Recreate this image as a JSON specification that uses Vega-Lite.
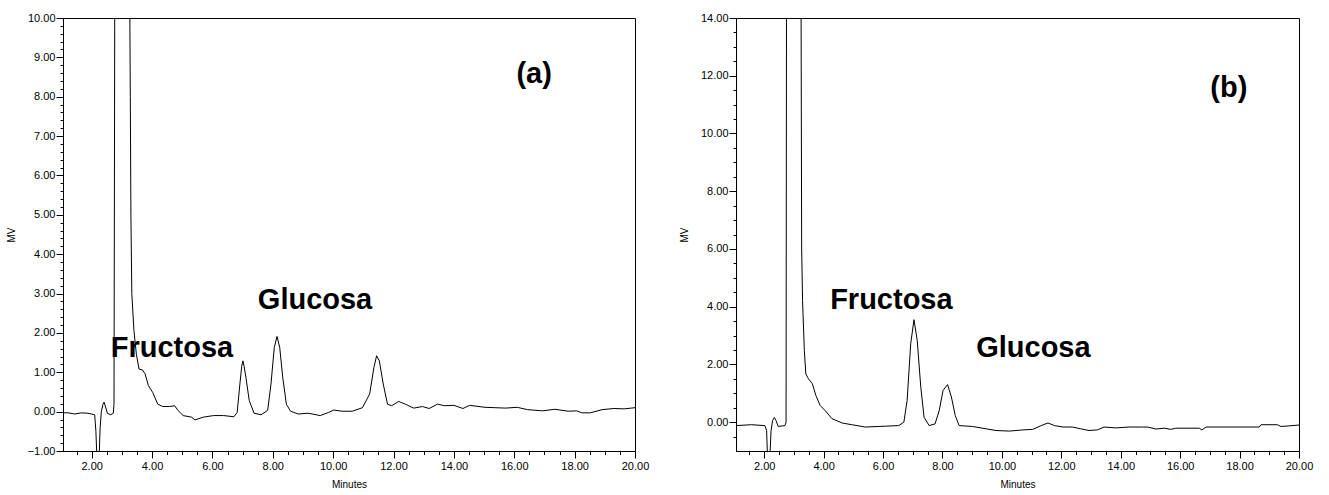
{
  "$schema": "https://vega.github.io/schema/vega-lite/v6.json",
  "background": "white",
  "padding": {"left": 5, "top": 11, "right": 0, "bottom": 0},
  "autosize": {"type": "pad"},
  "spacing": 101,
  "bounds": "flush",
  "config": {
    "view": {"stroke": "black", "strokeWidth": 1},
    "axis": {
      "grid": false,
      "labelFont": "Liberation Sans",
      "labelFontSize": 11,
      "labelColor": "black",
      "titleFont": "Liberation Sans",
      "titleFontSize": 10,
      "titleFontWeight": "normal",
      "titleColor": "black",
      "domainColor": "black",
      "tickColor": "black",
      "labelFlush": false,
      "labelOverlap": false
    }
  },
  "datasets": {
    "a": [
      {"t": 1.05, "v": -0.03}, {"t": 1.22, "v": -0.03}, {"t": 1.44, "v": -0.06}, {"t": 1.66, "v": -0.03},
      {"t": 1.85, "v": -0.04}, {"t": 2.0, "v": -0.06}, {"t": 2.1, "v": -0.08}, {"t": 2.14, "v": -0.5},
      {"t": 2.18, "v": -1.3}, {"t": 2.24, "v": -1.3}, {"t": 2.28, "v": -0.4}, {"t": 2.32, "v": 0.0},
      {"t": 2.37, "v": 0.18}, {"t": 2.41, "v": 0.24}, {"t": 2.46, "v": 0.12}, {"t": 2.52, "v": -0.04},
      {"t": 2.63, "v": -0.08}, {"t": 2.72, "v": -0.04}, {"t": 2.74, "v": 0.2}, {"t": 2.765, "v": 10.6},
      {"t": 3.26, "v": 10.6}, {"t": 3.28, "v": 8.0}, {"t": 3.3, "v": 5.0}, {"t": 3.33, "v": 3.0},
      {"t": 3.4, "v": 2.06}, {"t": 3.48, "v": 1.46}, {"t": 3.57, "v": 1.08}, {"t": 3.68, "v": 1.06},
      {"t": 3.77, "v": 0.96}, {"t": 3.88, "v": 0.66}, {"t": 4.02, "v": 0.49}, {"t": 4.19, "v": 0.19},
      {"t": 4.35, "v": 0.13}, {"t": 4.58, "v": 0.13}, {"t": 4.75, "v": 0.15}, {"t": 4.86, "v": 0.03},
      {"t": 5.03, "v": -0.1}, {"t": 5.31, "v": -0.14}, {"t": 5.42, "v": -0.21}, {"t": 5.7, "v": -0.14},
      {"t": 6.04, "v": -0.1}, {"t": 6.37, "v": -0.1}, {"t": 6.71, "v": -0.13}, {"t": 6.82, "v": -0.02},
      {"t": 6.91, "v": 0.7}, {"t": 6.97, "v": 1.15}, {"t": 7.01, "v": 1.29}, {"t": 7.05, "v": 1.15},
      {"t": 7.11, "v": 0.87}, {"t": 7.22, "v": 0.28}, {"t": 7.38, "v": -0.04}, {"t": 7.61, "v": -0.08},
      {"t": 7.83, "v": 0.03}, {"t": 7.94, "v": 0.7}, {"t": 8.05, "v": 1.63}, {"t": 8.14, "v": 1.91},
      {"t": 8.23, "v": 1.63}, {"t": 8.33, "v": 0.87}, {"t": 8.45, "v": 0.19}, {"t": 8.59, "v": 0.01},
      {"t": 8.84, "v": -0.06}, {"t": 9.17, "v": -0.04}, {"t": 9.57, "v": -0.1}, {"t": 9.85, "v": -0.02},
      {"t": 10.02, "v": 0.04}, {"t": 10.3, "v": 0.01}, {"t": 10.63, "v": 0.01}, {"t": 10.97, "v": 0.1},
      {"t": 11.21, "v": 0.45}, {"t": 11.35, "v": 1.12}, {"t": 11.44, "v": 1.42}, {"t": 11.53, "v": 1.29},
      {"t": 11.66, "v": 0.7}, {"t": 11.8, "v": 0.19}, {"t": 11.94, "v": 0.15}, {"t": 12.17, "v": 0.26},
      {"t": 12.39, "v": 0.19}, {"t": 12.67, "v": 0.09}, {"t": 12.96, "v": 0.13}, {"t": 13.18, "v": 0.08},
      {"t": 13.46, "v": 0.19}, {"t": 13.69, "v": 0.15}, {"t": 14.0, "v": 0.16}, {"t": 14.3, "v": 0.08},
      {"t": 14.52, "v": 0.16}, {"t": 15.03, "v": 0.11}, {"t": 15.71, "v": 0.09}, {"t": 16.1, "v": 0.11},
      {"t": 16.44, "v": 0.05}, {"t": 16.94, "v": 0.02}, {"t": 17.34, "v": 0.06}, {"t": 17.79, "v": 0.01},
      {"t": 18.07, "v": 0.02}, {"t": 18.24, "v": -0.03}, {"t": 18.52, "v": -0.03}, {"t": 18.91, "v": 0.05},
      {"t": 19.3, "v": 0.08}, {"t": 19.64, "v": 0.07}, {"t": 20.0, "v": 0.1}
    ],
    "b": [
      {"t": 1.05, "v": -0.12}, {"t": 1.57, "v": -0.09}, {"t": 2.02, "v": -0.12}, {"t": 2.08, "v": -0.29},
      {"t": 2.11, "v": -1.2}, {"t": 2.19, "v": -1.2}, {"t": 2.23, "v": -0.3}, {"t": 2.28, "v": 0.05},
      {"t": 2.34, "v": 0.16}, {"t": 2.4, "v": 0.05}, {"t": 2.47, "v": -0.15}, {"t": 2.7, "v": -0.12},
      {"t": 2.735, "v": 0.0}, {"t": 2.75, "v": 14.5}, {"t": 3.24, "v": 14.5}, {"t": 3.26, "v": 6.0},
      {"t": 3.29, "v": 4.21}, {"t": 3.35, "v": 2.48}, {"t": 3.4, "v": 1.67}, {"t": 3.49, "v": 1.5},
      {"t": 3.62, "v": 1.33}, {"t": 3.74, "v": 0.92}, {"t": 3.88, "v": 0.58}, {"t": 4.05, "v": 0.4},
      {"t": 4.28, "v": 0.12}, {"t": 4.62, "v": -0.03}, {"t": 4.95, "v": -0.09}, {"t": 5.4, "v": -0.17},
      {"t": 5.86, "v": -0.15}, {"t": 6.08, "v": -0.14}, {"t": 6.53, "v": -0.12}, {"t": 6.7, "v": 0.0},
      {"t": 6.81, "v": 0.75}, {"t": 6.93, "v": 2.71}, {"t": 7.04, "v": 3.55}, {"t": 7.15, "v": 2.83},
      {"t": 7.27, "v": 1.21}, {"t": 7.38, "v": 0.17}, {"t": 7.55, "v": -0.12}, {"t": 7.75, "v": -0.06},
      {"t": 7.89, "v": 0.4}, {"t": 8.02, "v": 1.1}, {"t": 8.17, "v": 1.3}, {"t": 8.3, "v": 0.87},
      {"t": 8.43, "v": 0.23}, {"t": 8.56, "v": -0.12}, {"t": 9.01, "v": -0.15}, {"t": 9.46, "v": -0.23},
      {"t": 9.8, "v": -0.29}, {"t": 10.25, "v": -0.31}, {"t": 10.7, "v": -0.27}, {"t": 11.04, "v": -0.25},
      {"t": 11.32, "v": -0.12}, {"t": 11.55, "v": -0.03}, {"t": 11.77, "v": -0.12}, {"t": 12.06, "v": -0.17},
      {"t": 12.37, "v": -0.17}, {"t": 12.65, "v": -0.23}, {"t": 12.93, "v": -0.29}, {"t": 13.21, "v": -0.27},
      {"t": 13.44, "v": -0.17}, {"t": 13.83, "v": -0.2}, {"t": 14.28, "v": -0.17}, {"t": 14.73, "v": -0.17},
      {"t": 14.9, "v": -0.17}, {"t": 15.18, "v": -0.24}, {"t": 15.46, "v": -0.21}, {"t": 15.69, "v": -0.25},
      {"t": 15.85, "v": -0.21}, {"t": 16.64, "v": -0.21}, {"t": 16.73, "v": -0.27}, {"t": 16.87, "v": -0.17},
      {"t": 17.54, "v": -0.17}, {"t": 18.66, "v": -0.17}, {"t": 18.72, "v": -0.09}, {"t": 19.28, "v": -0.09},
      {"t": 19.39, "v": -0.15}, {"t": 19.67, "v": -0.13}, {"t": 20.0, "v": -0.1}
    ],
    "la": [
      {"t": 4.66, "v": 1.4, "label": "Fructosa"},
      {"t": 9.4, "v": 2.62, "label": "Glucosa"},
      {"t": 16.66, "v": 8.34, "label": "(a)"}
    ],
    "lb": [
      {"t": 6.28, "v": 3.93, "label": "Fructosa"},
      {"t": 11.06, "v": 2.25, "label": "Glucosa"},
      {"t": 17.64, "v": 11.26, "label": "(b)"}
    ]
  },
  "hconcat": [
    {
      "width": 572,
      "height": 433,
      "resolve": {"axis": {"x": "independent", "y": "independent"}},
      "layer": [
        {
          "data": {"name": "a"},
          "mark": {"type": "line", "clip": true, "color": "black", "strokeWidth": 1},
          "encoding": {
            "x": {
              "field": "t", "type": "quantitative",
              "scale": {"domain": [1.05, 20], "nice": false, "zero": false},
              "axis": {
                "orient": "bottom", "title": "Minutes", "titlePadding": 8, "labelPadding": 2, "tickSize": 7,
                "values": [2, 4, 6, 8, 10, 12, 14, 16, 18, 20], "format": ".2f"
              }
            },
            "y": {
              "field": "v", "type": "quantitative",
              "scale": {"domain": [-1, 10], "nice": false, "zero": false},
              "axis": {
                "orient": "left", "title": "MV", "titlePadding": 11, "labelPadding": 1, "tickSize": 7,
                "values": [-1, 0, 1, 2, 3, 4, 5, 6, 7, 8, 9, 10], "format": ".2f"
              }
            }
          }
        },
        {
          "data": {"name": "la"},
          "mark": {"type": "text", "font": "Liberation Sans", "fontWeight": "bold", "fontSize": 29, "align": "center", "baseline": "alphabetic", "color": "black"},
          "encoding": {
            "x": {
              "field": "t", "type": "quantitative",
              "axis": {
                "orient": "bottom", "title": null, "labels": false, "domain": false, "tickSize": 3.5,
                "values": [1.5, 2.5, 3, 3.5, 4.5, 5, 5.5, 6.5, 7, 7.5, 8.5, 9, 9.5, 10.5, 11, 11.5, 12.5, 13, 13.5, 14.5, 15, 15.5, 16.5, 17, 17.5, 18.5, 19, 19.5]
              }
            },
            "y": {
              "field": "v", "type": "quantitative",
              "axis": {
                "orient": "left", "title": null, "labels": false, "domain": false, "tickSize": 3,
                "values": [-0.8, -0.6, -0.4, -0.2, 0.2, 0.4, 0.6, 0.8, 1.2, 1.4, 1.6, 1.8, 2.2, 2.4, 2.6, 2.8, 3.2, 3.4, 3.6, 3.8, 4.2, 4.4, 4.6, 4.8, 5.2, 5.4, 5.6, 5.8, 6.2, 6.4, 6.6, 6.8, 7.2, 7.4, 7.6, 7.8, 8.2, 8.4, 8.6, 8.8, 9.2, 9.4, 9.6, 9.8]
              }
            },
            "text": {"field": "label"}
          }
        }
      ]
    },
    {
      "width": 563,
      "height": 433,
      "resolve": {"axis": {"x": "independent", "y": "independent"}},
      "layer": [
        {
          "data": {"name": "b"},
          "mark": {"type": "line", "clip": true, "color": "black", "strokeWidth": 1},
          "encoding": {
            "x": {
              "field": "t", "type": "quantitative",
              "scale": {"domain": [1.05, 20], "nice": false, "zero": false},
              "axis": {
                "orient": "bottom", "title": "Minutes", "titlePadding": 8, "labelPadding": 2, "tickSize": 7,
                "values": [2, 4, 6, 8, 10, 12, 14, 16, 18, 20], "format": ".2f"
              }
            },
            "y": {
              "field": "v", "type": "quantitative",
              "scale": {"domain": [-1, 14], "nice": false, "zero": false},
              "axis": {
                "orient": "left", "title": "MV", "titlePadding": 11, "labelPadding": 1, "tickSize": 7,
                "values": [0, 2, 4, 6, 8, 10, 12, 14], "format": ".2f"
              }
            }
          }
        },
        {
          "data": {"name": "lb"},
          "mark": {"type": "text", "font": "Liberation Sans", "fontWeight": "bold", "fontSize": 29, "align": "center", "baseline": "alphabetic", "color": "black"},
          "encoding": {
            "x": {
              "field": "t", "type": "quantitative",
              "axis": {
                "orient": "bottom", "title": null, "labels": false, "domain": false, "tickSize": 3.5,
                "values": [1.5, 2.5, 3, 3.5, 4.5, 5, 5.5, 6.5, 7, 7.5, 8.5, 9, 9.5, 10.5, 11, 11.5, 12.5, 13, 13.5, 14.5, 15, 15.5, 16.5, 17, 17.5, 18.5, 19, 19.5]
              }
            },
            "y": {
              "field": "v", "type": "quantitative",
              "axis": {
                "orient": "left", "title": null, "labels": false, "domain": false, "tickSize": 3,
                "values": [-0.5, 0.5, 1, 1.5, 2.5, 3, 3.5, 4.5, 5, 5.5, 6.5, 7, 7.5, 8.5, 9, 9.5, 10.5, 11, 11.5, 12.5, 13, 13.5]
              }
            },
            "text": {"field": "label"}
          }
        }
      ]
    }
  ]
}
